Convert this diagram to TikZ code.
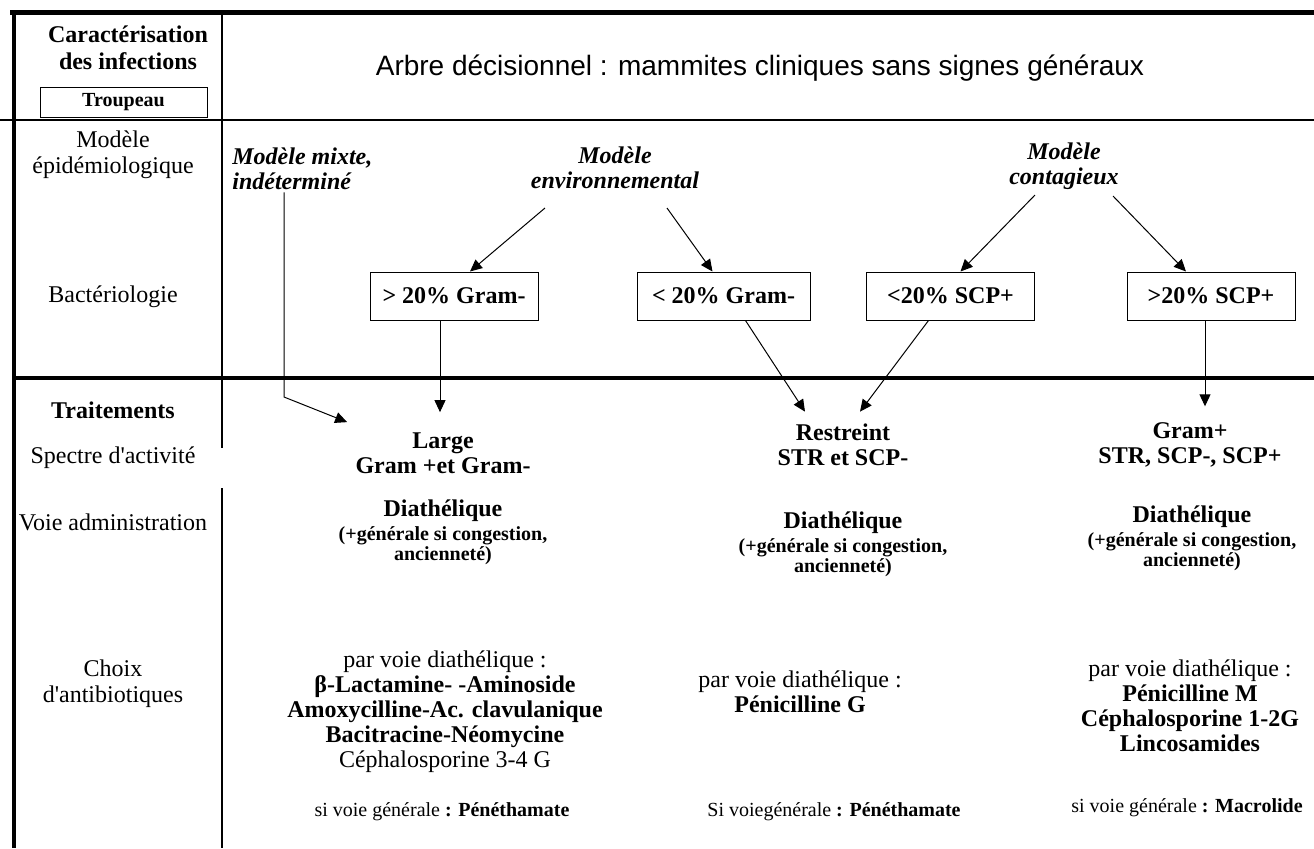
\documentclass[tikz,border=0pt]{standalone}
\usepackage{fontspec}
\setmainfont{Liberation Serif}[Ligatures=TeXOff]
\newfontfamily\arialfont{Liberation Sans}
\usetikzlibrary{arrows.meta,positioning,calc}

\newcommand{\bigtxt}{\fontsize{12}{12.5}\selectfont}
\newcommand{\smalltxt}{\fontsize{10}{8.5}\selectfont}

\begin{document}
\begin{tikzpicture}[x=0.5pt,y=-0.5pt,
    rowlabel/.style={font=\fontsize{12}{13}\selectfont, align=center, inner sep=1pt},
    stage/.style={draw, line width=0.5pt, font=\bigtxt\bfseries, minimum width=84pt, minimum height=24pt, inner sep=0pt},
    model/.style={font=\bigtxt\bfseries\itshape, align=center, inner sep=1pt},
    treat/.style={font=\bigtxt\bfseries, align=center, inner sep=1pt},
    route/.style={font=\smalltxt\bfseries, align=center, inner sep=1pt},
    drug/.style={font=\bigtxt, align=center, inner sep=1pt},
    general/.style={font=\fontsize{10}{12}\selectfont, inner sep=1pt},
    arr/.style={line width=0.5pt, -{Triangle[length=6pt,width=5.5pt]}}]
    \useasboundingbox (0,0) rectangle (1314,848);

    % Table frame
    \draw[line width=2.5pt] (10,12) -- (1314,12);
    \draw[line width=2pt] (14,12) -- (14,848);
    \draw[line width=0.6pt] (0,120) -- (1314,120);
    \draw[line width=2pt] (14,378) -- (1314,378);
    \draw[line width=0.6pt] (222,14) -- (222,448) (222,488) -- (222,848);

    % Header
    \node[font=\fontsize{12}{13.5}\selectfont\bfseries, align=center] (carac) at (128,48) {Caractérisation\\des infections};
    \node[draw, line width=0.5pt, minimum width=83.5pt, minimum height=15pt, inner sep=0pt,
          font=\fontsize{10}{12}\selectfont\bfseries] (troupeau) at (123.5,102.5) {Troupeau};
    \node[font=\arialfont\fontsize{14}{16}\selectfont] (titre) at (760,68) {Arbre décisionnel : mammites cliniques sans signes généraux};

    % Row labels
    \node[rowlabel] (epid) at (113,155) {Modèle\\épidémiologique};
    \node[rowlabel] (bact) at (113,297) {Bactériologie};
    \node[rowlabel, font=\fontsize{12}{13}\selectfont\bfseries] (trait) at (113,410) {Traitements};
    \node[rowlabel] (spectre) at (113,458) {Spectre d'activité};
    \node[rowlabel] (voie) at (113,522) {Voie administration};
    \node[rowlabel] (choix) at (113,684) {Choix\\d'antibiotiques};

    % Epidemiological models
    \node[model, align=left, anchor=west] (mixte) at (230,169) {Modèle mixte,\\indéterminé};
    \node[model] (env) at (615,168) {Modèle\\environnemental};
    \node[model] (cont) at (1064,166) {Modèle\\contagieux};

    % Bacteriology boxes
    \node[stage] (gA) at (454,296) {> 20\% Gram-};
    \node[stage, minimum width=86.5pt] (gB) at (723.5,296) {< 20\% Gram-};
    \node[stage] (sA) at (950.5,296) {<20\% SCP+};
    \node[stage] (sB) at (1211,296) {>20\% SCP+};

    % Treatments
    \node[treat] (large) at (443,453) {Large\\Gram +et Gram-};
    \node[treat] (restr) at (843,445) {Restreint\\STR et SCP-};
    \node[treat] (gramp) at (1190,445) {Gram+\\STR, SCP-, SCP+};

    \node[treat] (diaA) at (443,511) {Diathélique};
    \node[route, below=0pt of diaA] (congA) {(+générale si congestion,\\ancienneté)};
    \node[treat] (diaB) at (843,523) {Diathélique};
    \node[route, below=0pt of diaB] (congB) {(+générale si congestion,\\ancienneté)};
    \node[treat] (diaC) at (1192,517) {Diathélique};
    \node[route, below=0pt of diaC] (congC) {(+générale si congestion,\\ancienneté)};

    \node[drug] (abA) at (445,712) {par voie diathélique :\\\textbf{β-Lactamine- -Aminoside}\\\textbf{Amoxycilline-Ac. clavulanique}\\\textbf{Bacitracine-Néomycine}\\Céphalosporine 3-4 G};
    \node[drug] (abB) at (800,692) {par voie diathélique :\\\textbf{Pénicilline G}};
    \node[drug] (abC) at (1190,706) {par voie diathélique :\\\textbf{Pénicilline M}\\\textbf{Céphalosporine 1-2G}\\\textbf{Lincosamides}};

    \node[general] (genA) at (442,812) {si voie générale \textbf{: Pénéthamate}};
    \node[general] (genB) at (834,812) {Si voiegénérale \textbf{: Pénéthamate}};
    \node[general] (genC) at (1187,808) {si voie générale \textbf{: Macrolide}};

    % Arrows
    \coordinate (envL) at (545,208);
    \coordinate (envR) at (667,208);
    \coordinate (contL) at (1035,195);
    \coordinate (contR) at (1113,196);
    \draw[arr] (envL) -- ($(gA.north)+(16,0)$);
    \draw[arr] (envR) -- ($(gB.north)+(-11,0)$);
    \draw[arr] (contL) -- ($(sA.north)+(10,0)$);
    \draw[arr] (contR) -- ($(sB.north)+(-25,0)$);

    \coordinate (mixteBend) at (284,397);
    \draw[arr] (mixte.south -| mixteBend) -- (mixteBend) -- ($(large.north west)+(-6,-8)$);
    \draw[arr] ($(gA.south)+(-14,0)$) -- ($(large.north)+(-3,-18)$);
    \draw[arr] ($(gB.south)+(22,0)$) -- ($(restr.north)+(-38,-10)$);
    \draw[arr] ($(sA.south)+(-22,0)$) -- ($(restr.north)+(17,-10)$);
    \draw[arr] ($(sB.south)+(-6,0)$) -- ($(gramp.north)+(15,-14)$);
\end{tikzpicture}
\end{document}
